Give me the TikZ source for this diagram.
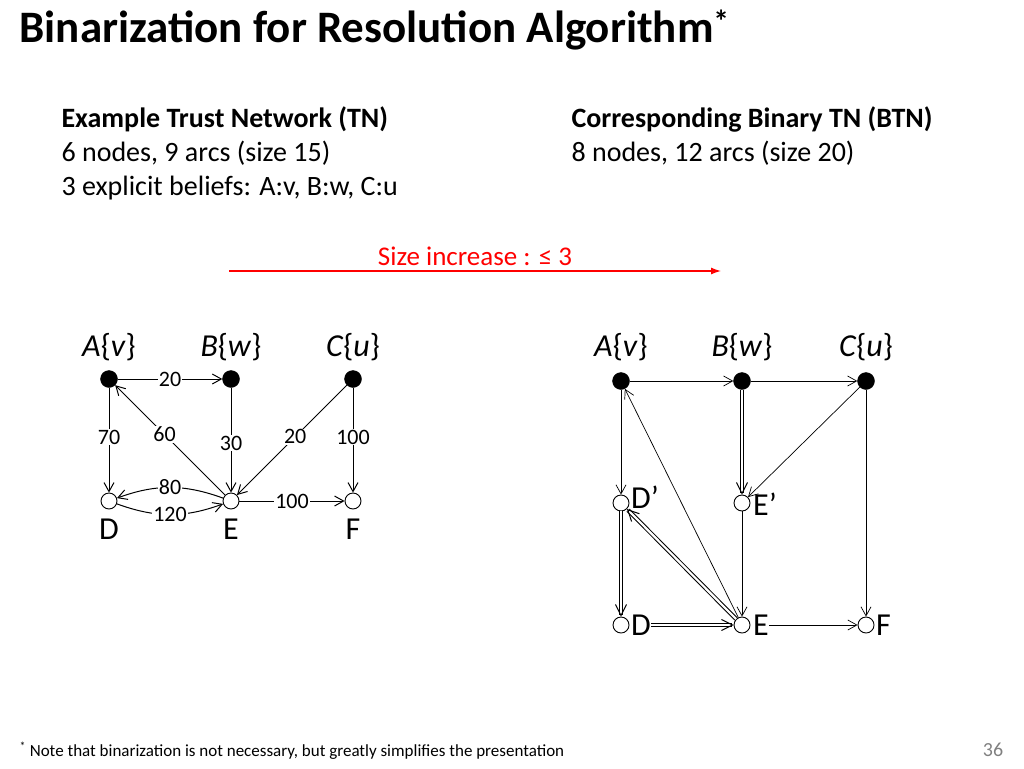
\documentclass[tikz,border=0pt]{standalone}
\usepackage{fontspec}
\setmainfont{Carlito}
\usetikzlibrary{arrows.meta}
\begin{document}
\begin{tikzpicture}[x=1pt,y=-1pt,
  full/.style={circle,fill=black,draw=black,minimum size=17pt,inner sep=0pt},
  open/.style={circle,fill=white,draw=black,line width=0.9pt,minimum size=16pt,inner sep=0pt},
  arc/.style={-{Straight Barb[length=9pt,width=10pt]},line width=1pt},
  dbl/.style={-{Straight Barb[length=11pt,width=11pt]},line width=1pt,double,double distance=2.2pt},
  lab/.style={fill=white,inner sep=1pt,font=\fontsize{22}{24}\selectfont},
  nl/.style={font=\fontsize{32}{36}\selectfont},
  txt/.style={anchor=west,font=\fontsize{28}{34}\selectfont,align=left}]
\useasboundingbox (0,0) rectangle (1024,768);
\node[anchor=west,font=\fontsize{45}{50}\selectfont\bfseries] (title) at (16,30) {Binarization for Resolution Algorithm\textsuperscript{*}};
\node[txt,anchor=north west] (lt) at (58,103) {\textbf{Example Trust Network (TN)}\\6 nodes, 9 arcs (size 15)\\3 explicit beliefs: A:v, B:w, C:u};
\node[txt,anchor=north west] (rt) at (568,103) {\textbf{Corresponding Binary TN (BTN)}\\8 nodes, 12 arcs (size 20)};
\coordinate (r1) at (229,271); \coordinate (r2) at (721,271);
\draw[red,line width=1.3pt,-{Latex[length=10pt,width=7pt]}] (r1) -- (r2);
\node[red,font=\fontsize{27}{30}\selectfont] (si) at (475,256) {Size increase : ≤ 3};
% left graph
\node[full] (A) at (109,379) {}; \node[full] (B) at (231,379) {}; \node[full] (C) at (353,379) {};
\node[open] (D) at (109,501) {}; \node[open] (E) at (231,501) {}; \node[open] (F) at (353,501) {};
\node[nl] (Al) at (109,347) {\textit{A}\{\textit{v}\}}; \node[nl] (Bl) at (231,347) {\textit{B}\{\textit{w}\}}; \node[nl] (Cl) at (353,347) {\textit{C}\{\textit{u}\}};
\node[nl] (Dl) at (109,529) {D}; \node[nl] (El) at (231,529) {E}; \node[nl] (Fl) at (353,529) {F};
\draw[arc] (A) -- node[lab]{20} (B);
\draw[arc] (A) -- node[lab,pos=0.47]{70} (D);
\draw[arc] (E) -- node[lab,pos=0.55]{60} (A);
\draw[arc] (B) -- node[lab,pos=0.53]{30} (E);
\draw[arc] (C) -- node[lab,pos=0.47]{20} (E);
\draw[arc] (C) -- node[lab,pos=0.47]{100} (F);
\draw[arc] (E) to[bend right=20] node[lab]{80} (D);
\draw[arc] (D) to[bend right=20] node[lab]{120} (E);
\draw[arc] (E) -- node[lab]{100} (F);
% right graph
\node[full] (A2) at (621,381) {}; \node[full] (B2) at (742,381) {}; \node[full] (C2) at (866,381) {};
\node[open] (Dp) at (621,503) {}; \node[open] (Ep) at (742,503) {};
\node[open] (D2) at (621,625) {}; \node[open] (E2) at (742,625) {}; \node[open] (F2) at (866,625) {};
\node[nl] (A2l) at (621,347) {\textit{A}\{\textit{v}\}}; \node[nl] (B2l) at (742,347) {\textit{B}\{\textit{w}\}}; \node[nl] (C2l) at (866,347) {\textit{C}\{\textit{u}\}};
\node[nl,anchor=west,inner sep=0pt] (Dpl) at (631,497) {D’}; \node[nl,anchor=west,inner sep=0pt] (Epl) at (753,504) {E’};
\node[nl,anchor=west,inner sep=0pt] (D2l) at (631,625) {D}; \node[nl,anchor=west,inner sep=0pt] (E2l) at (753,625) {E}; \node[nl,anchor=west,inner sep=0pt] (F2l) at (876,625) {F};
\draw[arc,line width=0.7pt] (A2) -- (B2);
\draw[arc,line width=0.7pt] (B2) -- (C2);
\draw[arc,line width=0.7pt] (A2) -- (Dp);
\draw[arc,line width=0.7pt] (E2) -- (A2);
\draw[arc,line width=0.7pt] (C2) -- (Ep);
\draw[arc,line width=0.7pt] (Ep) -- (E2);
\draw[arc,line width=0.7pt] (C2) -- (F2);
\draw[arc,line width=0.7pt] (E2l) -- (F2);
\draw[dbl] (B2) -- (Ep);
\draw[dbl] (Dp) -- (D2);
\draw[dbl] (D2l) -- (E2);
\draw[dbl] (E2) -- (Dp);
\node[anchor=west,font=\fontsize{17}{19}\selectfont] (fn) at (16,751) {\textsuperscript{*} Note that binarization is not necessary, but greatly simplifies the presentation};
\node[gray,font=\fontsize{20}{22}\selectfont] (pg) at (993,750) {36};
\end{tikzpicture}
\end{document}
